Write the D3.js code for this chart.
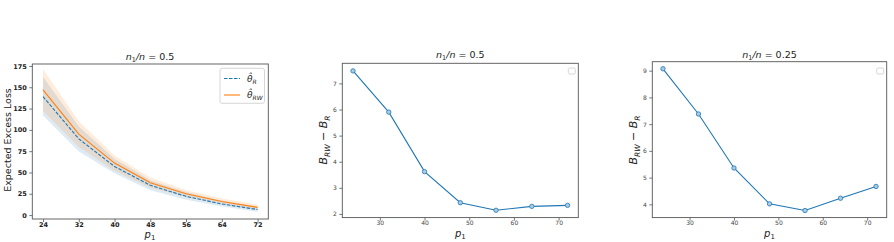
<!DOCTYPE html>
<html>
<head>
<meta charset="utf-8">
<script src="https://cdn.jsdelivr.net/npm/d3@7"></script>
<style>
  body { margin: 0; background: #fff; }
  svg { display: block; font-family: "DejaVu Sans", sans-serif; }
</style>
</head>
<body>
<div id="chart"></div>
<script>
// p1 values shared by every panel
const p1 = [24, 32, 40, 48, 56, 64, 72];

// panel 1: expected excess loss with bands
const lossR = [139, 89.5, 57, 35, 22, 13, 6.5];
const lossR_lo = [117, 74.5, 49, 29, 18, 10, 4];
const lossR_hi = [162, 104, 66, 41, 27, 17, 10];
const lossRW = [147, 95, 61, 38, 25, 16, 9];
const lossRW_lo = [122, 80, 52, 32, 21, 12.5, 6];
const lossRW_hi = [171, 110, 70, 44, 29.5, 19.5, 12.5];

// panels 2 and 3: B_RW - B_R
const diffHalf = [7.48, 5.9, 3.62, 2.43, 2.14, 2.29, 2.33];
const diffQuarter = [9.07, 7.38, 5.36, 4.02, 3.77, 4.23, 4.67];

const blue = "#1f77b4", orange = "#ff7f0e";
const width = 894, height = 242;

const svg = d3.select("#chart").append("svg")
    .attr("width", width).attr("height", height);

function frame(g, x, y) {
    const [x0, x1] = x.range(), [y0, y1] = y.range();
    g.append("rect")
        .attr("x", x0).attr("y", y1)
        .attr("width", x1 - x0).attr("height", y0 - y1)
        .attr("fill", "none").attr("stroke", "#555").attr("stroke-width", 0.9);
}

function axes(g, x, y, xticks, yticks, bold) {
    const fs = bold ? "6.5px" : "6px";
    const xa = g.append("g").attr("transform", `translate(0,${y.range()[0]})`)
        .call(d3.axisBottom(x).tickValues(xticks).tickFormat(d3.format("d"))
            .tickSize(3).tickPadding(0));
    const ya = g.append("g").attr("transform", `translate(${x.range()[0]},0)`)
        .call(d3.axisLeft(y).tickValues(yticks).tickFormat(d3.format("d"))
            .tickSize(3).tickPadding(2.5));
    [xa, ya].forEach(a => {
        a.select(".domain").remove();
        a.selectAll("line").attr("stroke", "#555").attr("stroke-width", 0.8);
        a.selectAll("text")
            .attr("font-family", "DejaVu Sans")
            .attr("font-size", fs)
            .attr("font-weight", bold ? "bold" : "normal")
            .attr("fill", bold ? "#222" : "#444");
    });
}

function title(g, cx, cy, val) {
    const t = g.append("text").attr("x", cx).attr("y", cy)
        .attr("text-anchor", "middle").attr("font-size", "9.5px").attr("fill", "#222");
    t.append("tspan").attr("font-style", "italic").text("n");
    t.append("tspan").attr("font-size", "6.5px").attr("dy", 2).text("1");
    t.append("tspan").attr("dy", -2).attr("font-style", "italic").text("/n");
    t.append("tspan").text(" = " + val);
}

function xlabel(g, cx, cy) {
    const t = g.append("text").attr("x", cx).attr("y", cy)
        .attr("text-anchor", "middle").attr("font-size", "10px").attr("fill", "#222");
    t.append("tspan").attr("font-style", "italic").text("p");
    t.append("tspan").attr("font-size", "7px").attr("dy", 2).text("1");
}

function ylabelB(g, cx, cy) {
    const t = g.append("text")
        .attr("transform", `translate(${cx},${cy}) rotate(-90)`)
        .attr("text-anchor", "middle").attr("font-size", "11px").attr("fill", "#222");
    t.append("tspan").attr("font-style", "italic").text("B");
    t.append("tspan").attr("font-style", "italic").attr("font-size", "7.5px").attr("dy", 2.5).text("RW");
    t.append("tspan").attr("dy", -2.5).text(" \u2212 ");
    t.append("tspan").attr("font-style", "italic").text("B");
    t.append("tspan").attr("font-style", "italic").attr("font-size", "7.5px").attr("dy", 2.5).text("R");
}

function emptyLegend(g, x) {
    g.append("rect")
        .attr("x", x.range()[1] - 10).attr("y", 68)
        .attr("width", 7).attr("height", 6).attr("rx", 1.5)
        .attr("fill", "#fff").attr("stroke", "#ccc").attr("stroke-width", 0.8);
}

// ---------- panel 1 ----------
{
    const g = svg.append("g");
    const x = d3.scaleLinear().domain([21.6, 74.4]).range([32.3, 268.3]);
    const y = d3.scaleLinear().domain([-4.6, 177.3]).range([219, 64]);
    const pts = p1.map((p, i) => ({ p, i }));

    const area = (lo, hi) => d3.area()
        .x(d => x(d.p)).y0(d => y(lo[d.i])).y1(d => y(hi[d.i]));
    g.append("path").attr("d", area(lossR_lo, lossR_hi)(pts))
        .attr("fill", blue).attr("fill-opacity", 0.15);
    g.append("path").attr("d", area(lossRW_lo, lossRW_hi)(pts))
        .attr("fill", orange).attr("fill-opacity", 0.15);

    const line = vals => d3.line().x(d => x(d.p)).y(d => y(vals[d.i]));
    g.append("path").attr("d", line(lossR)(pts))
        .attr("fill", "none").attr("stroke", blue).attr("stroke-width", 1.1)
        .attr("stroke-dasharray", "3.5,1.5");
    g.append("path").attr("d", line(lossRW)(pts))
        .attr("fill", "none").attr("stroke", orange).attr("stroke-width", 1.1);

    frame(g, x, y);
    axes(g, x, y, p1, [0, 25, 50, 75, 100, 125, 150, 175], true);
    title(g, 150, 60, "0.5");
    xlabel(g, 150, 238);

    g.append("text")
        .attr("transform", "translate(11,140) rotate(-90)")
        .attr("text-anchor", "middle").attr("font-size", "9.5px").attr("fill", "#222")
        .text("Expected Excess Loss");

    // legend
    const lg = g.append("g");
    lg.append("rect").attr("x", 220).attr("y", 68.3).attr("width", 44.5).attr("height", 35)
        .attr("rx", 2).attr("fill", "#fff").attr("fill-opacity", 0.8)
        .attr("stroke", "#ccc").attr("stroke-width", 0.8);
    lg.append("line").attr("x1", 224).attr("x2", 240).attr("y1", 78.5).attr("y2", 78.5)
        .attr("stroke", blue).attr("stroke-width", 1.1).attr("stroke-dasharray", "3.5,1.5");
    lg.append("line").attr("x1", 224).attr("x2", 240).attr("y1", 95).attr("y2", 95)
        .attr("stroke", orange).attr("stroke-width", 1.1);
    const l1 = lg.append("text").attr("x", 247).attr("y", 81.5).attr("font-size", "9px").attr("fill", "#222");
    l1.append("tspan").attr("font-style", "italic").text("\u03b8\u0302");
    l1.append("tspan").attr("font-style", "italic").attr("font-size", "6px").attr("dy", 2).text("R");
    const l2 = lg.append("text").attr("x", 247).attr("y", 98).attr("font-size", "9px").attr("fill", "#222");
    l2.append("tspan").attr("font-style", "italic").text("\u03b8\u0302");
    l2.append("tspan").attr("font-style", "italic").attr("font-size", "6px").attr("dy", 2).text("RW");
}

// ---------- panels 2 and 3 ----------
function diffPanel(vals, x0, x1, yDomain, yTop, yticks, tval) {
    const g = svg.append("g");
    const x = d3.scaleLinear().domain([21.6, 74.4]).range([x0, x1]);
    const y = d3.scaleLinear().domain(yDomain).range([217.6, yTop]);
    const pts = p1.map((p, i) => ({ p, v: vals[i] }));
    g.append("path")
        .attr("d", d3.line().x(d => x(d.p)).y(d => y(d.v))(pts))
        .attr("fill", "none").attr("stroke", blue).attr("stroke-width", 1.1);
    g.selectAll("circle").data(pts).join("circle")
        .attr("cx", d => x(d.p)).attr("cy", d => y(d.v)).attr("r", 2.2)
        .attr("fill", "#a9cbe6").attr("stroke", blue).attr("stroke-width", 0.8);
    frame(g, x, y);
    axes(g, x, y, [30, 40, 50, 60, 70], yticks, false);
    emptyLegend(g, x);
    const cx = (x0 + x1) / 2;
    title(g, cx, 58, tval);
    xlabel(g, cx, 237);
    ylabelB(g, x0 - 15, 140);
}

diffPanel(diffHalf, 342.3, 578.3, [1.86, 7.77], 63.3, [2, 3, 4, 5, 6, 7], "0.5");
diffPanel(diffQuarter, 652.3, 886.7, [3.505, 9.335], 61.7, [4, 5, 6, 7, 8, 9], "0.25");
</script>
</body>
</html>
